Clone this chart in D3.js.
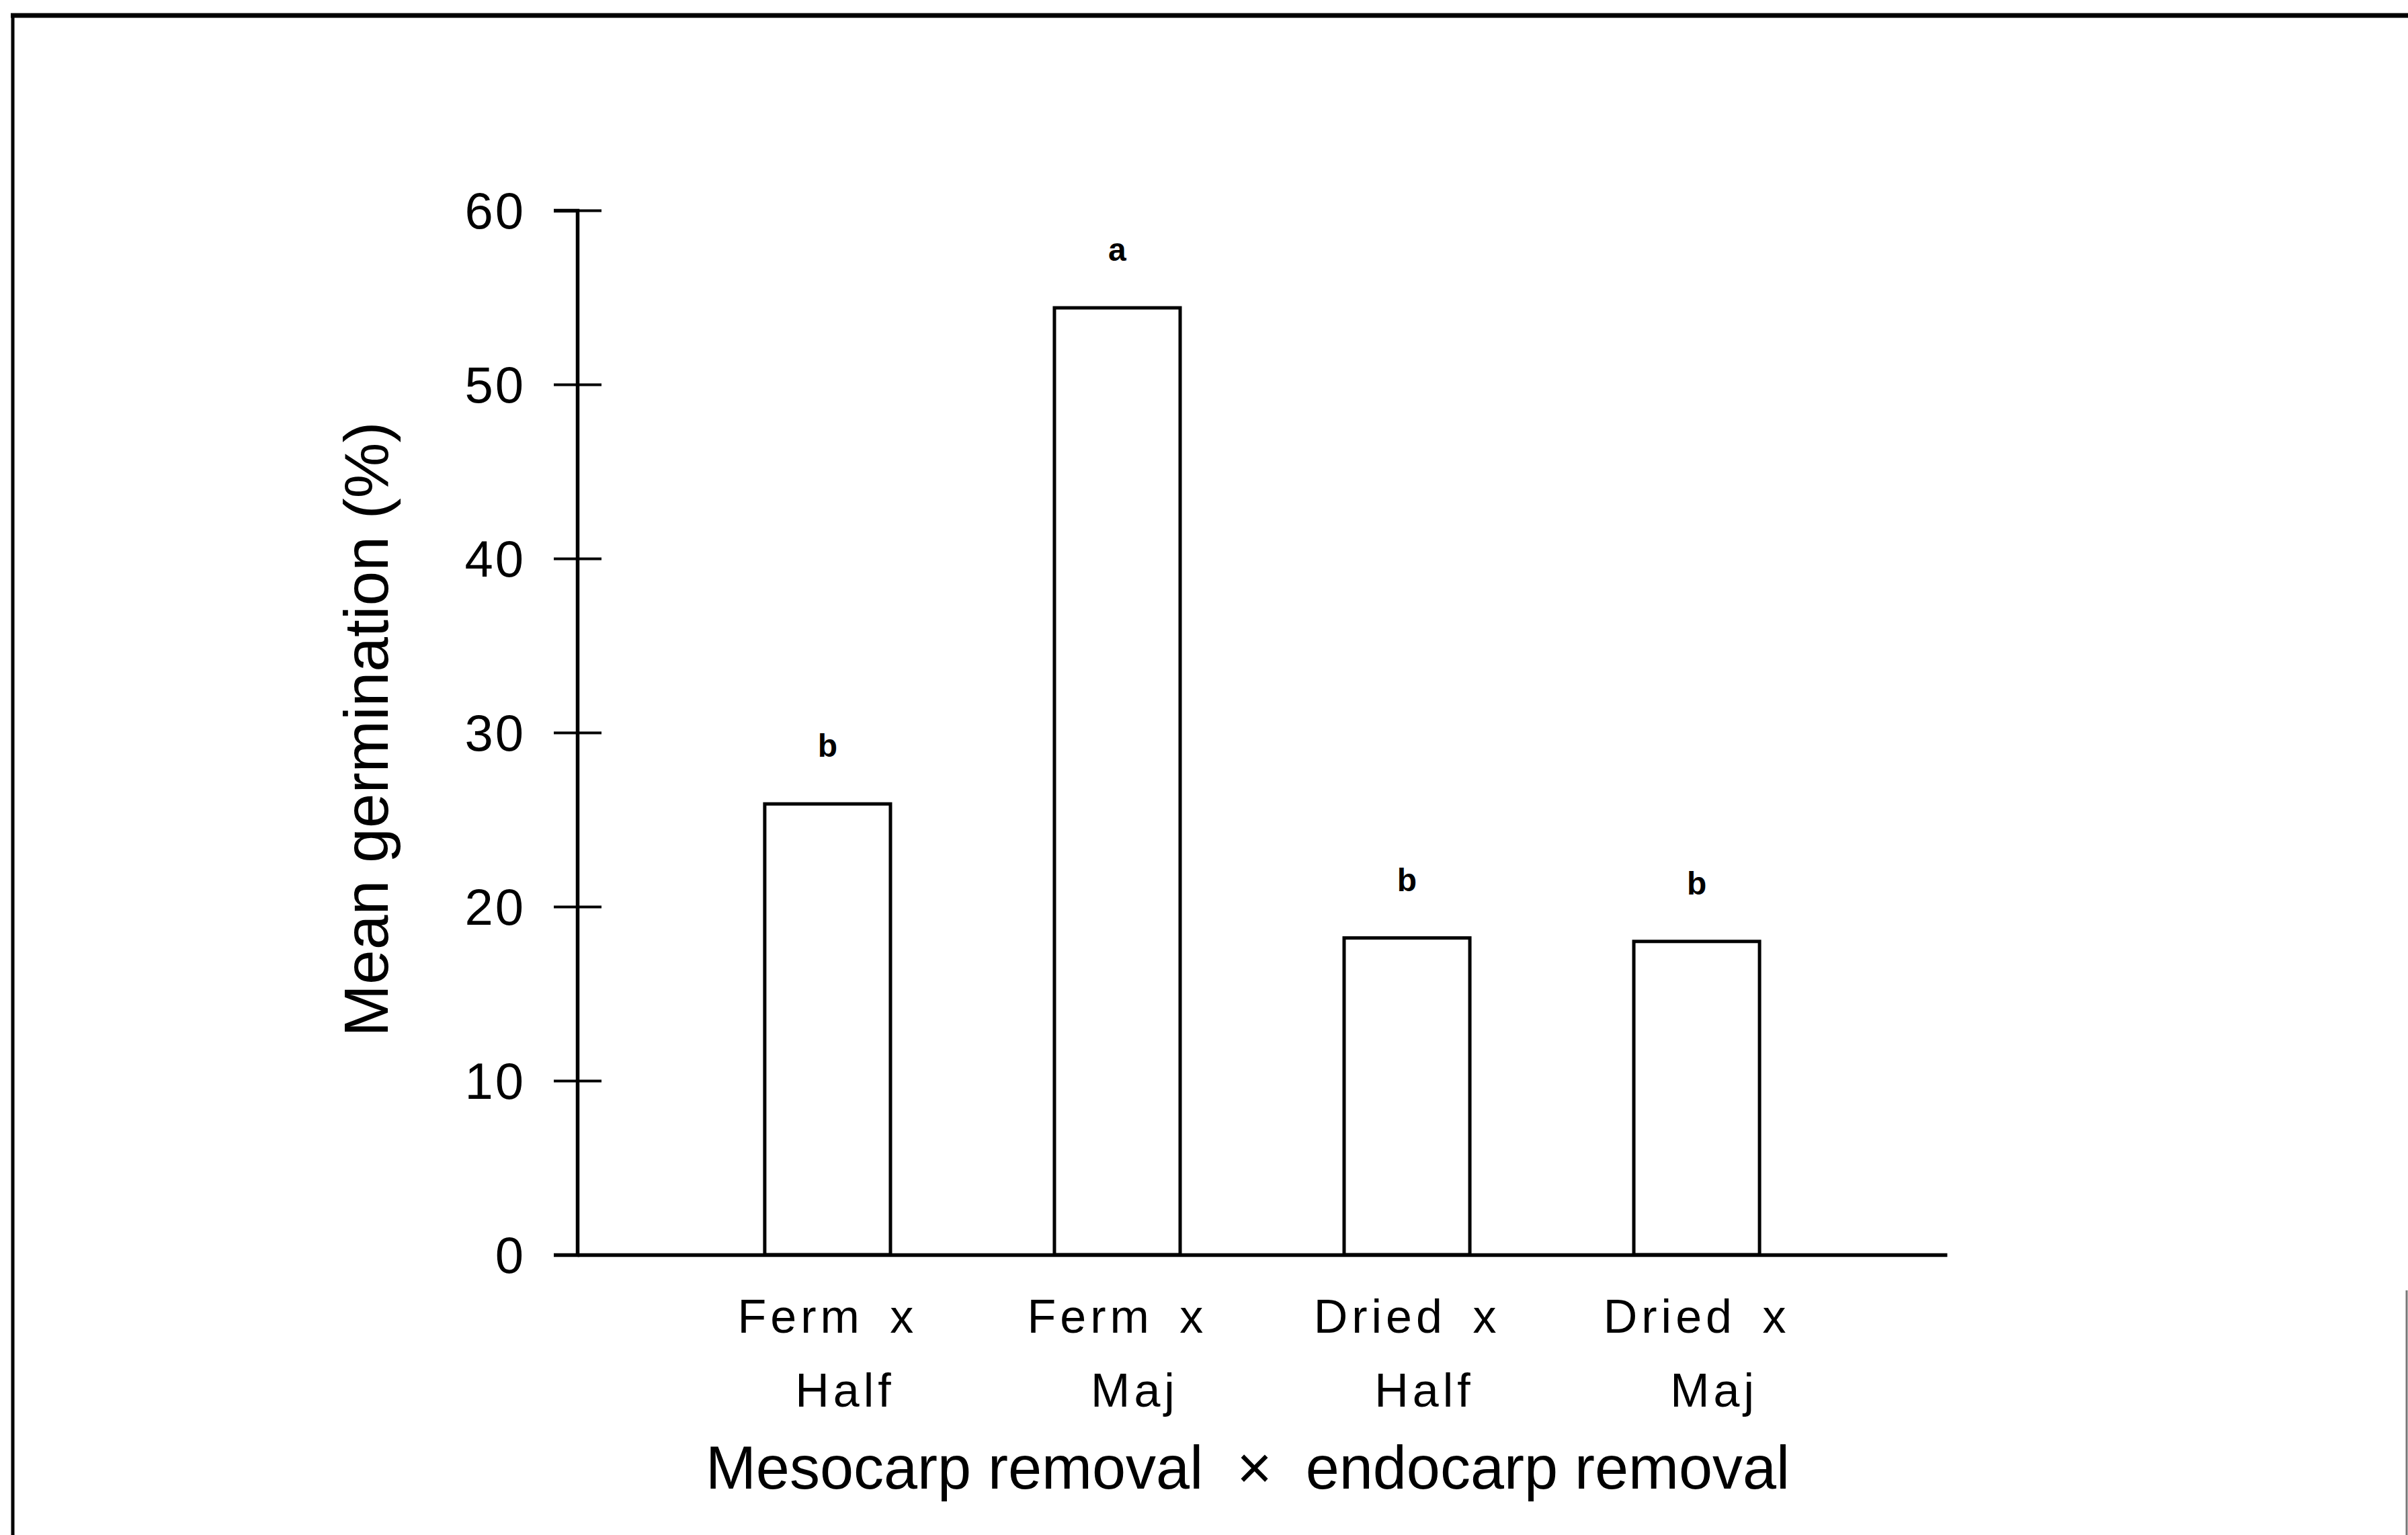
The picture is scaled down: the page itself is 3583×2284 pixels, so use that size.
<!DOCTYPE html>
<html>
<head>
<meta charset="utf-8">
<script src="https://cdn.jsdelivr.net/npm/d3@7"></script>
<style>
  html, body { margin: 0; padding: 0; background: #fff; }
  svg { display: block; }
  text { font-family: "Liberation Sans", Arial, Helvetica, sans-serif; fill: #000; }
</style>
</head>
<body>
<svg id="chart" width="3583" height="2284"></svg>
<script>
// ---- data ----
const catLine1 = ["Ferm x", "Ferm x", "Dried x", "Dried x"];
const catLine2 = ["Half", "Maj", "Half", "Maj"];
const categories = ["Ferm x Half", "Ferm x Maj", "Dried x Half", "Dried x Maj"];
const values = [25.9, 54.4, 18.2, 18.0];
const groupLetters = ["b", "a", "b", "b"];
const yTicks = [0, 10, 20, 30, 40, 50, 60];
const yTitle = "Mean germination (%)";
const xTitle = "Mesocarp removal  \u00d7  endocarp removal";

(function () {
// ---- layout ----
const W = 3583, H = 2284;
const mLeft = 859, mRight = 2897, mTop = 313, mBottom = 1867;

const svg = d3.select("#chart");
svg.append("rect").attr("width", W).attr("height", H).attr("fill", "#fff");

// page frame (scanned border)
svg.append("line").attr("x1", 16).attr("x2", W).attr("y1", 23).attr("y2", 23)
  .attr("stroke", "#000").attr("stroke-width", 7);
svg.append("line").attr("x1", 19).attr("x2", 19).attr("y1", 20).attr("y2", H)
  .attr("stroke", "#000").attr("stroke-width", 5);
svg.append("line").attr("x1", 3581).attr("x2", 3581).attr("y1", 1920).attr("y2", H)
  .attr("stroke", "#777").attr("stroke-width", 3);

const x = d3.scaleBand().domain(categories).range([mLeft, mRight])
  .paddingInner(0.566).paddingOuter(0.647);
const y = d3.scaleLinear().domain([0, 60]).range([mBottom, mTop]);

// bars
svg.append("g").selectAll("rect").data(values).join("rect")
  .attr("x", (d, i) => x(categories[i]))
  .attr("y", d => y(d))
  .attr("width", x.bandwidth())
  .attr("height", d => y(0) - y(d))
  .attr("fill", "#fff").attr("stroke", "#000").attr("stroke-width", 5);

// significance letters
svg.append("g").selectAll("text").data(groupLetters).join("text")
  .attr("x", (d, i) => x(categories[i]) + x.bandwidth() / 2)
  .attr("y", (d, i) => y(values[i]) - 70)
  .attr("text-anchor", "middle")
  .attr("font-size", 48)
  .attr("font-weight", "bold")
  .text(d => d);

// y axis
const yAxis = d3.axisLeft(y).tickValues(yTicks).tickFormat(d3.format("d"))
  .tickSizeOuter(0).tickSize(35).tickPadding(42);
const gy = svg.append("g").attr("transform", `translate(${mLeft},0)`).call(yAxis);
gy.select(".domain").attr("stroke-width", 5.5);
gy.selectAll(".tick line").attr("x1", 36).attr("x2", -35).attr("stroke-width", 4);
gy.selectAll(".tick text").attr("font-size", 76).attr("font-family", "Liberation Sans, Arial, sans-serif")
  .attr("dy", "0.35em").style("letter-spacing", "3px");

// x axis
const xAxis = d3.axisBottom(x).tickSize(0).tickSizeOuter(0).tickFormat(() => "");
const gx = svg.append("g").attr("transform", `translate(0,${mBottom})`).call(xAxis);
gx.select(".domain").attr("stroke-width", 5.5);
gx.selectAll(".tick text").remove();
gx.selectAll(".tick").each(function (d, i) {
  const t = d3.select(this).append("text")
    .attr("fill", "#000")
    .attr("font-size", 70)
    .attr("font-family", "Liberation Sans, Arial, sans-serif")
    .attr("text-anchor", "middle")
    .style("letter-spacing", "6px")
    .style("word-spacing", "14px");
  t.append("tspan").attr("x", 0).attr("y", 116).text(catLine1[i]);
  t.append("tspan").attr("x", 26).attr("y", 226).text(catLine2[i]);
});

// axis titles
svg.append("text")
  .attr("transform", `translate(577,1085) rotate(-90)`)
  .attr("text-anchor", "middle")
  .attr("font-size", 93)
  .text(yTitle);

svg.append("text")
  .attr("x", (1044 + 2669) / 2)
  .attr("y", 2215)
  .attr("text-anchor", "middle")
  .attr("font-size", 90)
  .style("white-space", "pre")
  .text(xTitle);
})();
</script>
</body>
</html>
